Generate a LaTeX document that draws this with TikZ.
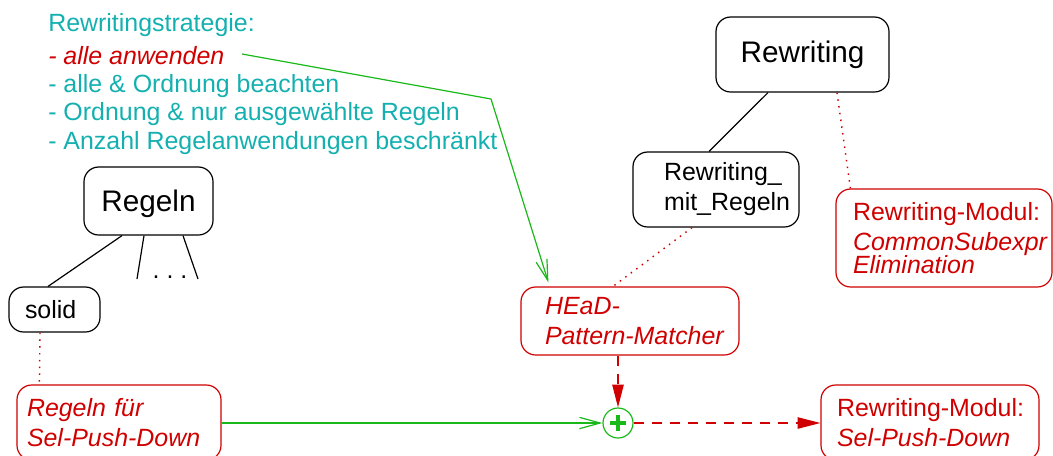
\documentclass[tikz,border=0pt]{standalone}
\usepackage{fontspec}
\setmainfont{Liberation Sans}
\usetikzlibrary{arrows.meta,calc}
\definecolor{fteal}{RGB}{20,176,176}
\definecolor{fred}{RGB}{208,0,0}
\definecolor{fgreen}{RGB}{25,185,25}
% lengths given in drawing units (1 unit = 0.75pt)
\newcommand\pxu[1]{#1*0.75pt}
\begin{document}
\begin{tikzpicture}[x=0.75pt,y=-0.75pt,
  every node/.style={inner sep=0pt},
  txt/.style={font=\fontsize{18.7}{22.5}\selectfont},
  big/.style={font=\fontsize{22.3}{26}\selectfont},
  blackbox/.style={draw=black, line width=0.9pt, rounded corners=11pt},
  redbox/.style={draw=fred, text=fred, line width=0.9pt, rounded corners=11pt},
  tree/.style={black, line width=0.9pt},
  link/.style={fred, line width=1.1pt, dash pattern=on 1.1pt off 4pt},
  flow/.style={fred, line width=0.9pt, dash pattern=on 7.5pt off 6pt,
    -{Triangle[length=17pt,width=8.5pt]}},
  feed/.style={fgreen, line width=0.9pt, -{Straight Barb[length=15.5pt,width=8.5pt]}},
]
\useasboundingbox (0,0) rectangle (1053,455);
\clip (0,0) rectangle (1053,455);

% strategy list
\node[txt, text=fteal, anchor=base west] (title) at (48,31) {Rewritingstrategie:};
\node[txt, text=fred, anchor=base west] (s1) at (48,64) {\itshape - alle anwenden};
\node[txt, text=fteal, anchor=base west] (s2) at (48,92) {- alle \& Ordnung beachten};
\node[txt, text=fteal, anchor=base west] (s3) at (48,120) {- Ordnung \& nur ausgewählte Regeln};
\node[txt, text=fteal, anchor=base west] (s4) at (48,149.5) {- Anzahl Regelanwendungen beschränkt};

% class trees
\node[blackbox, big, minimum width=\pxu{173}, minimum height=\pxu{75}] (rw) at (802.5,54.5) {Rewriting};
\node[blackbox, big, minimum width=\pxu{129}, minimum height=\pxu{68}, text depth=0pt] (regeln) at (148.5,201) {Regeln};
\node[blackbox, txt, align=left, minimum height=\pxu{75},
  inner xsep=\pxu{31}, text width=\pxu{104}] (rwr) at (716,189.5)
  {\mbox{Rewriting\_}\\\mbox{mit\_Regeln}};
\node[blackbox, txt, align=left, minimum height=\pxu{45},
  inner xsep=\pxu{16}, text width=\pxu{59}] (solid) at (54.5,309.5) {solid};
\node[txt, anchor=base] (dots) at (170,278) {.\ .\ .};
\coordinate (e1) at (137,279);
\coordinate (e2) at (198,279);

% modules
\node[redbox, txt, align=left, minimum height=\pxu{98},
  inner xsep=\pxu{17}, text width=\pxu{182}] (cse) at (944,238)
  {\mbox{Rewriting-Modul:}\\\mbox{\itshape CommonSubexpr}\\[-5.25pt]\mbox{\itshape Elimination}};
\node[redbox, txt, align=left, minimum height=\pxu{68},
  inner xsep=\pxu{24}, text width=\pxu{170}] (head) at (630,321)
  {\mbox{\itshape HEaD-}\\\mbox{\itshape Pattern-Matcher}};
\node[redbox, txt, align=left, minimum height=\pxu{75},
  inner xsep=\pxu{10}, text width=\pxu{184}] (rf) at (119,422.5)
  {\mbox{\itshape Regeln für}\\\mbox{\itshape Sel-Push-Down}};
\node[redbox, txt, align=left, minimum height=\pxu{75},
  inner xsep=\pxu{16}, text width=\pxu{186}] (sp) at (930,422.5)
  {\mbox{Rewriting-Modul:}\\\mbox{\itshape Sel-Push-Down}};

% combination point
\node[circle, draw=fgreen, line width=0.9pt, minimum size=\pxu{30}] (plus) at (618,423) {};
\draw[fgreen, line width=2.4pt] ($(plus)+(-8,0)$) -- ($(plus)+(8,0)$)
  ($(plus)+(0,-8)$) -- ($(plus)+(0,8)$);

% tree edges
\draw[tree] ($(rw.south)+(-34.5,0)$) -- ($(rwr.north)+(-7,0)$);
\draw[tree] ($(regeln.south)+(-26.5,0)$) -- ($(solid.north)+(-6.5,0)$);
\draw[tree] ($(regeln.south)+(-4.5,0)$) -- (e1);
\draw[tree] ($(regeln.south)+(34.5,0)$) -- (e2);

% instance links
\draw[link] ($(rw.south)+(34.5,0)$) -- ($(cse.north west)+(15,0)$);
\draw[link] ($(rwr.south)+(-24,0)$) -- ($(head.north)+(-17,0)$);
\draw[link] ($(solid.south)+(-14.5,0)$) -- ($(rf.north west)+(23,0)$);

% strategy choice
\coordinate (sa) at (242,54);
\coordinate (sb) at (491,99);
\draw[feed] (sa) -- (sb) -- ($(head.north west)+(28,-4)$);

% data flow
\draw[feed] (plus -| rf.east) -- (plus.west);
\draw[flow] (plus |- head.south) -- (plus.north);
\draw[flow] (plus.east) -- (plus -| sp.west);
\end{tikzpicture}
\end{document}
